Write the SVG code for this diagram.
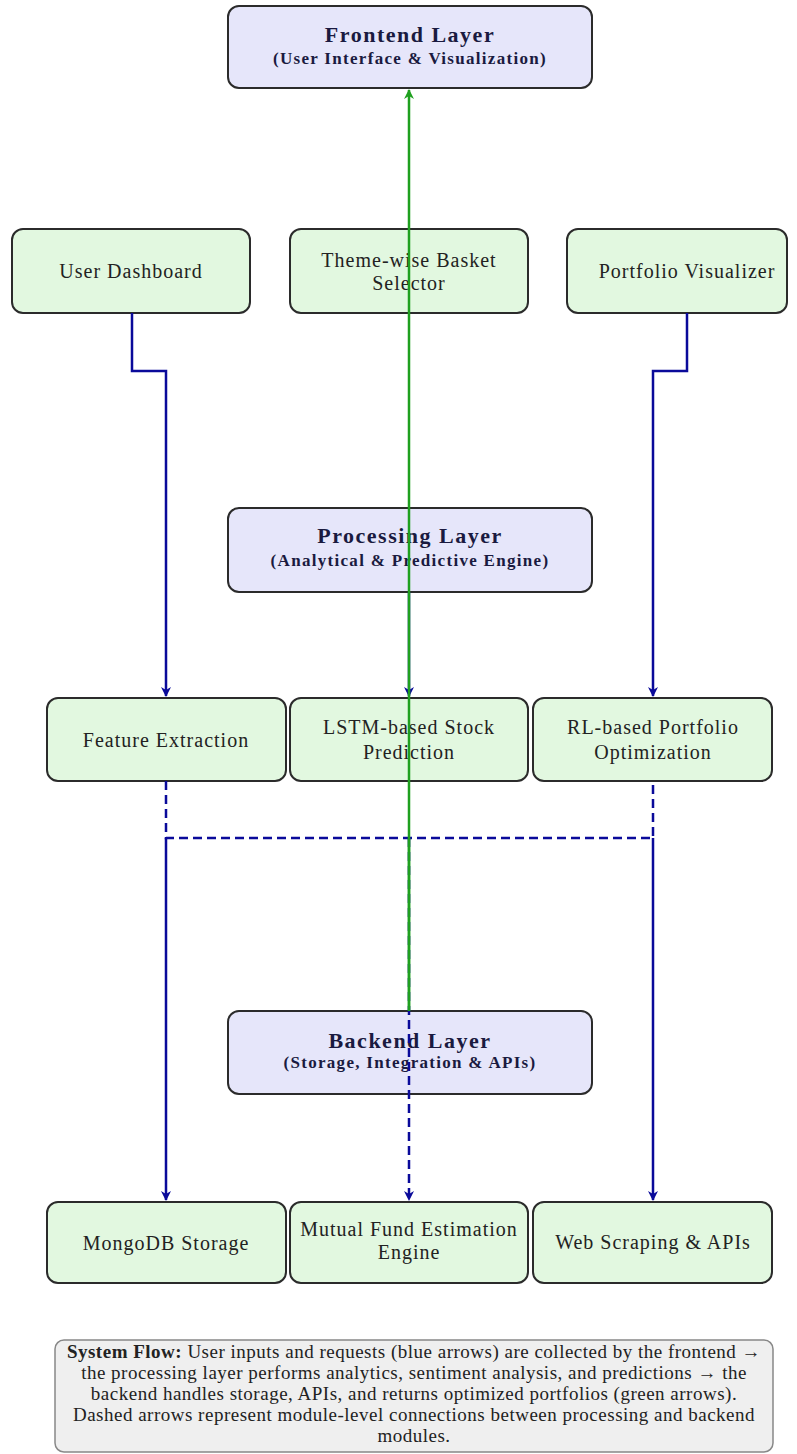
<svg xmlns="http://www.w3.org/2000/svg" width="797" height="1454" viewBox="0 0 797 1454">
<style>
.layer{fill:#e6e6fa;stroke:#2b2b2b;stroke-width:2}
.mod{fill:#e2f8e0;stroke:#2b2b2b;stroke-width:2}
.t{font-family:"Liberation Serif","Times New Roman",serif;fill:#222;text-anchor:middle}
.lt{font-size:22px;font-weight:bold;fill:#1a1a40;letter-spacing:1.5px}
.ls{font-size:17px;font-weight:bold;fill:#1a1a40;letter-spacing:1.3px}
.mt{font-size:20px;letter-spacing:1px}
.blue{fill:none;stroke:#0a0a9a;stroke-width:2.5}
.dash{stroke-dasharray:9 5}
.green{fill:none;stroke:#1fa01f;stroke-width:2.5}
.cap{fill:#efefef;stroke:#888;stroke-width:1.5}
.ct{font-family:"Liberation Serif","Times New Roman",serif;font-size:19px;letter-spacing:0.5px;fill:#222;text-anchor:middle}
</style>
<defs>
<marker id="ab" viewBox="0 0 10 10" refX="9" refY="5" markerWidth="4" markerHeight="4" orient="auto" markerUnits="strokeWidth">
<path d="M0,0 L10,5 L0,10 L3,5 Z" fill="#0a0a9a"/>
</marker>
<marker id="ag" viewBox="0 0 10 10" refX="9" refY="5" markerWidth="4" markerHeight="4" orient="auto" markerUnits="strokeWidth">
<path d="M0,0 L10,5 L0,10 L3,5 Z" fill="#1fa01f"/>
</marker>
</defs>
<rect width="797" height="1454" fill="#fff"/>

<g id="frontend">
<rect class="layer" x="228" y="6" width="364" height="82" rx="11"/>
<text class="t lt" x="410" y="42">Frontend Layer</text>
<text class="t ls" x="410" y="64">(User Interface &amp; Visualization)</text>
</g>
<g id="user-dashboard">
<rect class="mod" x="12" y="229" width="238" height="84" rx="11"/>
<text class="t mt" x="131" y="278">User Dashboard</text>
</g>
<g id="basket-selector">
<rect class="mod" x="290" y="229" width="238" height="84" rx="11"/>
<text class="t mt" x="409" y="267">Theme-wise Basket</text>
<text class="t mt" x="409" y="290">Selector</text>
</g>
<g id="portfolio-visualizer">
<rect class="mod" x="567" y="229" width="220" height="84" rx="11"/>
<text class="t mt" x="687" y="278">Portfolio Visualizer</text>
</g>

<g id="processing">
<rect class="layer" x="228" y="508" width="364" height="84" rx="11"/>
<text class="t lt" x="410" y="543">Processing Layer</text>
<text class="t ls" x="410" y="566">(Analytical &amp; Predictive Engine)</text>
</g>
<g id="feature-extraction">
<rect class="mod" x="47" y="698" width="239" height="83" rx="11"/>
<text class="t mt" x="166" y="747">Feature Extraction</text>
</g>
<g id="lstm">
<rect class="mod" x="290" y="698" width="238" height="83" rx="11"/>
<text class="t mt" x="409" y="734">LSTM-based Stock</text>
<text class="t mt" x="409" y="759">Prediction</text>
</g>
<g id="rl-optimization">
<rect class="mod" x="533" y="698" width="239" height="83" rx="11"/>
<text class="t mt" x="653" y="734">RL-based Portfolio</text>
<text class="t mt" x="653" y="759">Optimization</text>
</g>

<g id="backend">
<rect class="layer" x="228" y="1011" width="364" height="83" rx="11"/>
<text class="t lt" x="410" y="1048">Backend Layer</text>
<text class="t ls" x="410" y="1068">(Storage, Integration &amp; APIs)</text>
</g>
<g id="mongodb">
<rect class="mod" x="47" y="1202" width="239" height="81" rx="11"/>
<text class="t mt" x="166" y="1250">MongoDB Storage</text>
</g>
<g id="mutual-fund">
<rect class="mod" x="290" y="1202" width="238" height="81" rx="11"/>
<text class="t mt" x="409" y="1236">Mutual Fund Estimation</text>
<text class="t mt" x="409" y="1259">Engine</text>
</g>
<g id="web-scraping">
<rect class="mod" x="533" y="1202" width="239" height="81" rx="11"/>
<text class="t mt" x="653" y="1249">Web Scraping &amp; APIs</text>
</g>

<g id="connectors">
<path class="blue" d="M132,313 V371 H166 V696" marker-end="url(#ab)"/>
<path class="blue" d="M687,313 V371 H653 V696" marker-end="url(#ab)"/>
<path class="blue" d="M409,592 V696" marker-end="url(#ab)"/>
<path class="blue dash" d="M166,781 V838 H653 V781"/>
<path class="blue" d="M166,838 V1200" marker-end="url(#ab)"/>
<path class="blue" d="M653,838 V1200" marker-end="url(#ab)"/>
<path class="green" d="M409,1011 V90" marker-end="url(#ag)"/>
<path class="blue dash" d="M409,838 V1200" marker-end="url(#ab)"/>
<path class="green" d="M409,838 V1011"/>
</g>

<g id="caption">
<rect class="cap" x="55" y="1340" width="718" height="112" rx="9"/>
<text class="ct" x="414" y="1358"><tspan font-weight="bold">System Flow:</tspan> User inputs and requests (blue arrows) are collected by the frontend →</text>
<text class="ct" x="414" y="1379">the processing layer performs analytics, sentiment analysis, and predictions → the</text>
<text class="ct" x="414" y="1400">backend handles storage, APIs, and returns optimized portfolios (green arrows).</text>
<text class="ct" x="414" y="1421">Dashed arrows represent module-level connections between processing and backend</text>
<text class="ct" x="414" y="1442">modules.</text>
</g>
</svg>
